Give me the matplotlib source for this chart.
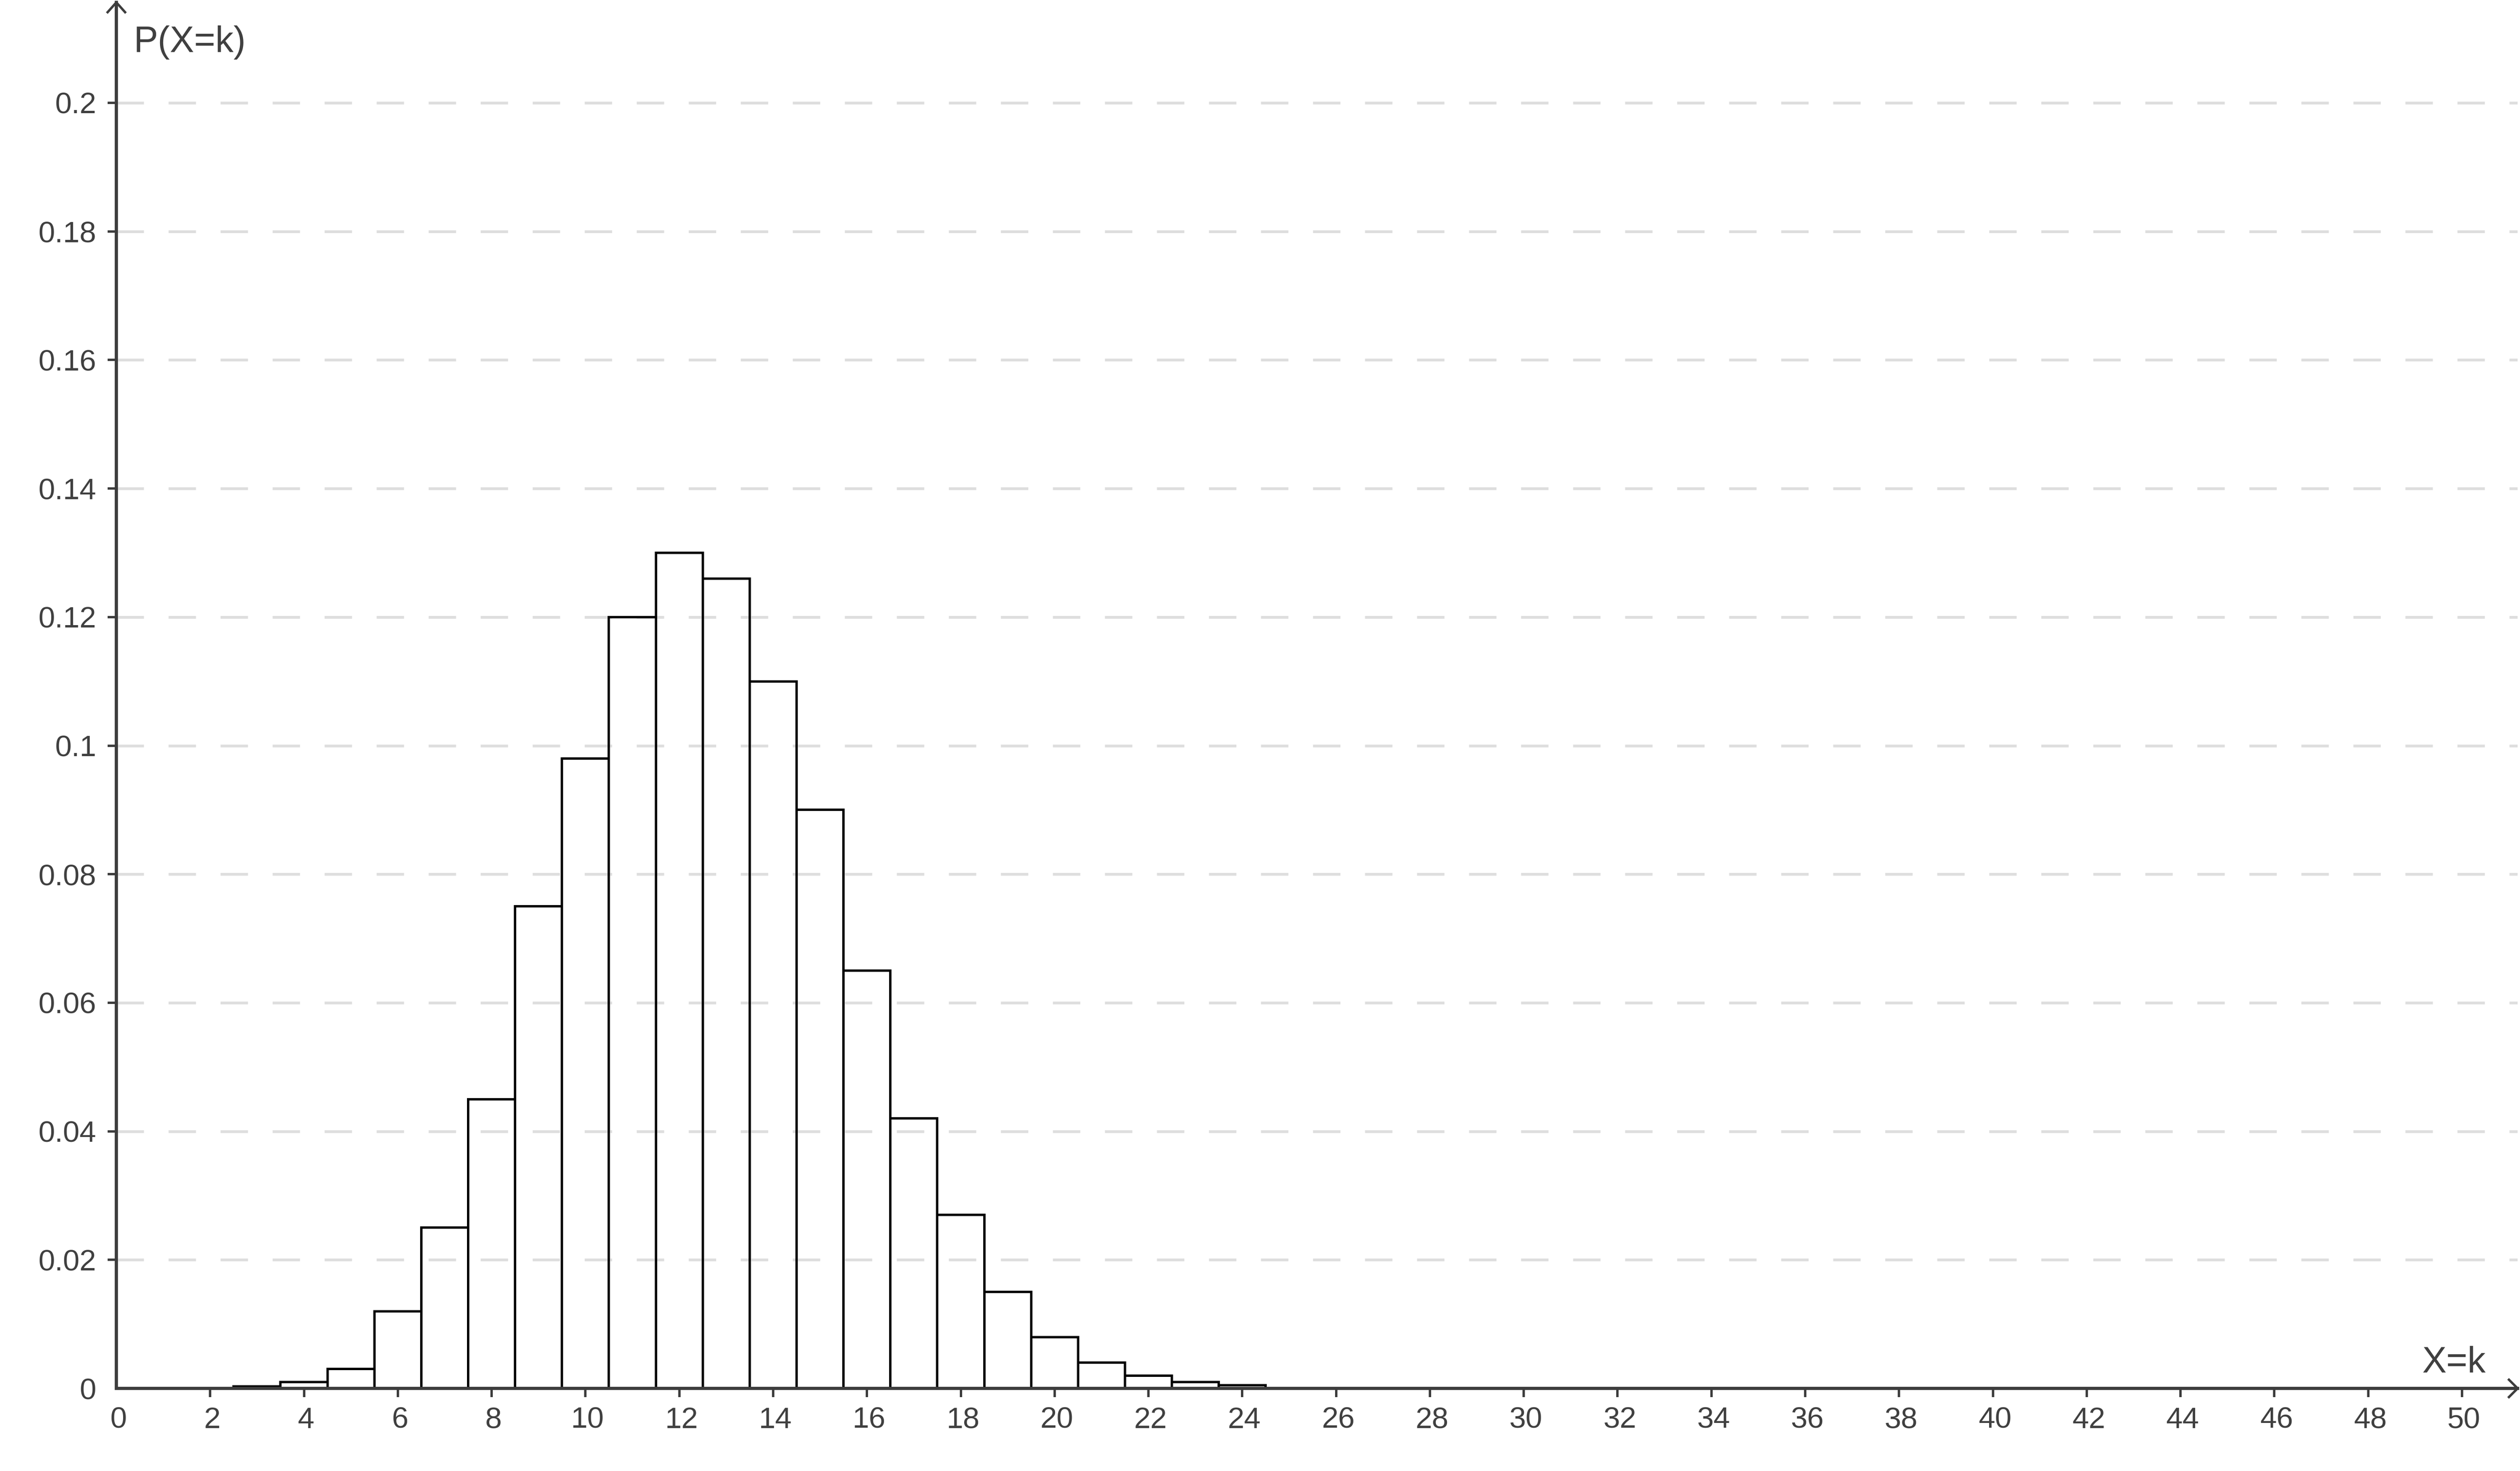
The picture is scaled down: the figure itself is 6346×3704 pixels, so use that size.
import matplotlib
matplotlib.use('Agg')
import matplotlib.pyplot as plt
import matplotlib.transforms as mtransforms

# probabilities, k = 3 .. 24
k_values = list(range(3, 25))
p_values = [0.0003, 0.001, 0.003, 0.012, 0.025, 0.045, 0.075, 0.098, 0.120,
            0.130, 0.126, 0.110, 0.090, 0.065, 0.042, 0.027, 0.015, 0.008,
            0.004, 0.002, 0.001, 0.0005]

x_ticks = list(range(0, 51, 2))
y_ticks = [0, 0.02, 0.04, 0.06, 0.08, 0.1, 0.12, 0.14, 0.16, 0.18, 0.2]
y_tick_labels = ['0', '0.02', '0.04', '0.06', '0.08', '0.1', '0.12', '0.14',
                 '0.16', '0.18', '0.2']

W, H, DPI = 6346, 3704, 100
AXIS_COLOR = '#3d3d3d'
TEXT_COLOR = '#404040'
PX = 72.0 / DPI  # points per pixel

plt.rcParams['font.family'] = ['Liberation Sans', 'DejaVu Sans']
plt.rcParams['lines.scale_dashes'] = False

fig = plt.figure(figsize=(W / DPI, H / DPI), dpi=DPI)
left_px, right_px, zero_px, top_px = 293, 6340, 3496, 6
ax = fig.add_axes([left_px / W, (H - zero_px) / H,
                   (right_px - left_px) / W, (zero_px - top_px) / H])

x_unit = (6200 - 293) / 50.0
y_unit = (3496 - 259) / 0.2
ax.set_xlim(0, (right_px - left_px) / x_unit)
ax.set_ylim(0, (zero_px - top_px) / y_unit)

ax.bar(k_values, p_values, width=1.0, facecolor='none', edgecolor='black',
       linewidth=6 * PX, zorder=3)

# dashed horizontal grid
for yv in y_ticks[1:]:
    ax.axhline(yv, color='#dedede', linewidth=7 * PX,
               linestyle=(0, (69 * PX, 62 * PX)), zorder=1)

for side in ['top', 'right']:
    ax.spines[side].set_visible(False)
for side in ['left', 'bottom']:
    ax.spines[side].set_color(AXIS_COLOR)
    ax.spines[side].set_linewidth(8 * PX)
    ax.spines[side].set_zorder(4)

ax.set_xticks(x_ticks)
ax.set_xticklabels([str(v) for v in x_ticks])
ax.set_yticks(y_ticks)
ax.set_yticklabels(y_tick_labels)
ax.tick_params(axis='both', colors=AXIS_COLOR, labelcolor=TEXT_COLOR,
               labelsize=54, length=22 * PX, width=6 * PX, direction='out')
ax.tick_params(axis='x', pad=24 * PX)
ax.tick_params(axis='y', pad=29 * PX)

# no tick marks at the origin
ax.xaxis.get_major_ticks()[0].tick1line.set_visible(False)
ax.yaxis.get_major_ticks()[0].tick1line.set_visible(False)

# x labels sit a little right of their ticks
shift = mtransforms.ScaledTranslation(5.0 / DPI, 0, fig.dpi_scale_trans)
for lbl in ax.get_xticklabels():
    lbl.set_transform(lbl.get_transform() + shift)

# arrow heads on the axes
xmax = ax.get_xlim()[1]
ymax = ax.get_ylim()[1]
dx = 24 / x_unit
dy = 24 / y_unit
ax.plot([xmax - dx, xmax, xmax - dx], [dy, 0, -dy], color=AXIS_COLOR,
        linewidth=6 * PX, clip_on=False, zorder=5, solid_capstyle='butt')
ax.plot([-dx, 0, dx], [ymax - 27 / y_unit, ymax, ymax - 27 / y_unit],
        color=AXIS_COLOR, linewidth=6 * PX, clip_on=False, zorder=5,
        solid_capstyle='butt')

fig.text(337 / W, (H - 131) / H, 'P(X=k)', fontsize=66, color=TEXT_COLOR,
         ha='left', va='baseline')
fig.text(6100 / W, (H - 3456) / H, 'X=k', fontsize=66, color=TEXT_COLOR,
         ha='left', va='baseline')

fig.savefig('out.png', dpi=DPI, facecolor='white')
